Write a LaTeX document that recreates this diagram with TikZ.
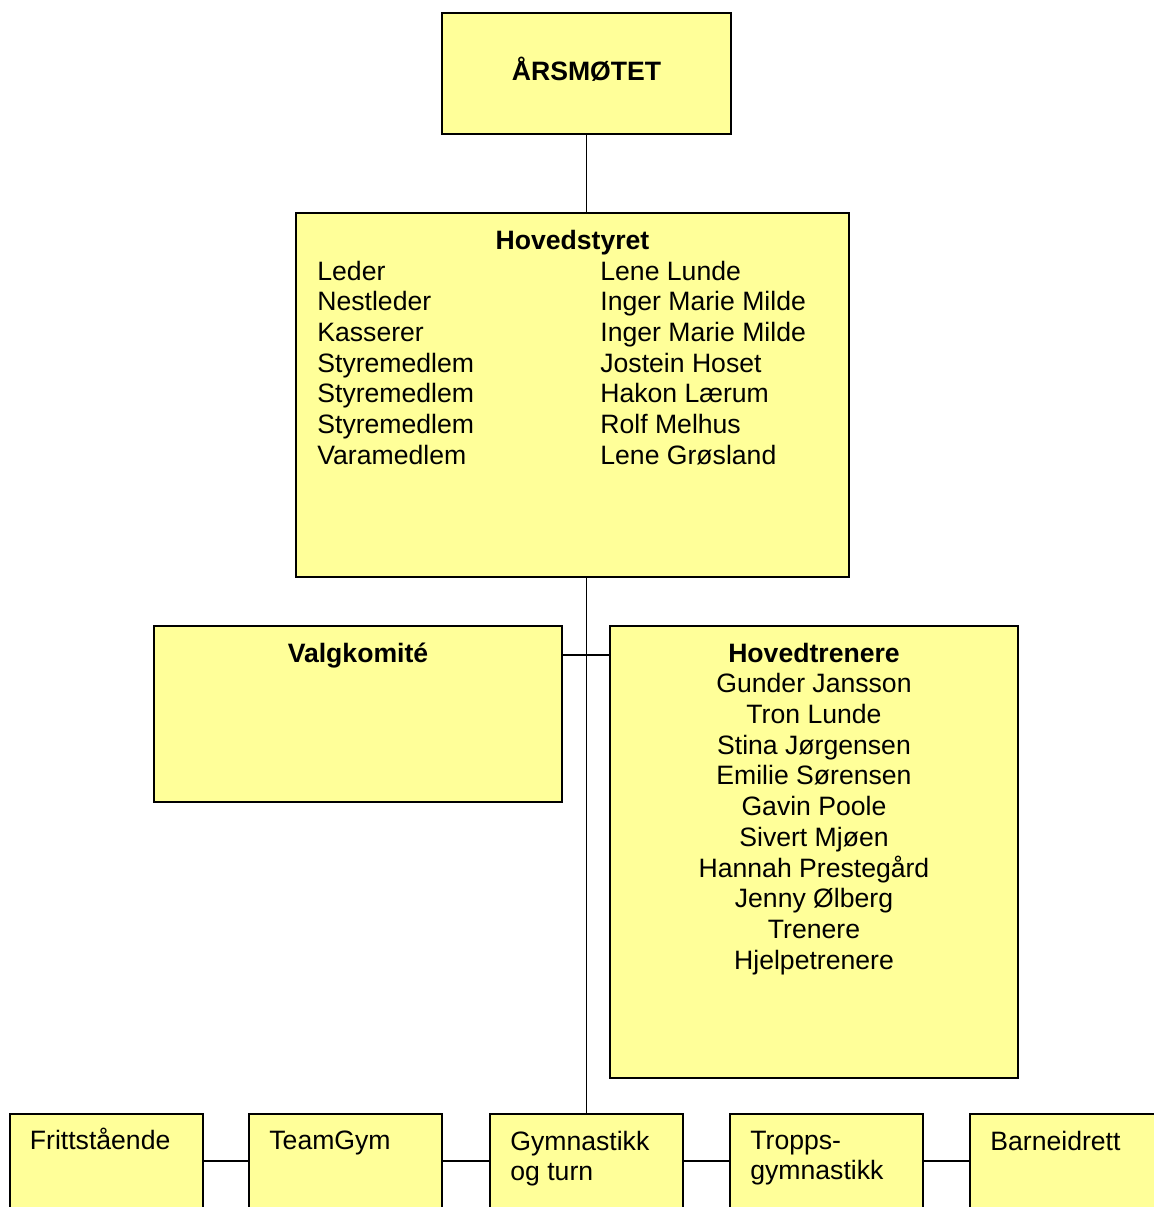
\documentclass[tikz,border=0pt]{standalone}
\usepackage{fontspec}
\setmainfont{Liberation Sans}
\usepackage{tikz}
\usetikzlibrary{positioning, calc}
\definecolor{boxyellow}{HTML}{FFFF99}
\tikzstyle{orgbox} = [rectangle, draw=black, line width=1pt, fill=boxyellow, inner sep=0pt]
\tikzstyle{txt} = [inner sep=0pt, font=\fontsize{13.3pt}{15.35pt}\selectfont]
\tikzstyle{link} = [line width=0.9pt]

\begin{document}
\begin{tikzpicture}[x=0.5pt, y=-0.5pt]
              \path[use as bounding box, clip] (0,0) rectangle (1154,1207);

              % top level
              \node[orgbox, minimum width=144.5pt, minimum height=60.5pt, txt, font=\fontsize{13.3pt}{15.35pt}\selectfont\bfseries, text height=9.5pt, text depth=2.5pt] (ars) at (586.5,73.5) {ÅRSMØTET};

              \node[orgbox, minimum width=276.5pt, minimum height=182pt] (hs) at (572.5,395) {};
              \node[txt, font=\fontsize{13.3pt}{15.35pt}\selectfont\bfseries, anchor=north] (hs-title) at (572.5,230) {Hovedstyret};
              \node[txt, anchor=north west, align=left] (hs-roles) at (317,260.5) {Leder\\Nestleder\\Kasserer\\Styremedlem\\Styremedlem\\Styremedlem\\Varamedlem};
              \node[txt, anchor=north west, align=left] (hs-names) at (600,260.5) {Lene Lunde\\Inger Marie Milde\\Inger Marie Milde\\Jostein Hoset\\Hakon Lærum\\Rolf Melhus\\Lene Grøsland};

              % middle level
              \node[orgbox, minimum width=204pt, minimum height=88pt] (valg) at (358,714) {};
              \node[txt, font=\fontsize{13.3pt}{15.35pt}\selectfont\bfseries, anchor=north] (valg-title) at (358,642.5) {Valgkomité};

              \node[orgbox, minimum width=204pt, minimum height=226pt] (trenere) at (814,852) {};
              \node[txt, anchor=north, align=center] (trenere-list) at (814,642.5) {\textbf{Hovedtrenere}\\Gunder Jansson\\Tron Lunde\\Stina Jørgensen\\Emilie Sørensen\\Gavin Poole\\Sivert Mjøen\\Hannah Prestegård\\Jenny Ølberg\\Trenere\\Hjelpetrenere};

              % groups
              \node[orgbox, minimum width=96.5pt, minimum height=65pt] (fritt) at (106,1179) {};
              \node[orgbox, minimum width=96.5pt, minimum height=65pt] (team) at (345.5,1179) {};
              \node[orgbox, minimum width=96.5pt, minimum height=65pt] (gym) at (586.5,1179) {};
              \node[orgbox, minimum width=96.5pt, minimum height=65pt] (tropps) at (826.5,1179) {};
              \node[orgbox, minimum width=96.5pt, minimum height=65pt] (barne) at (1066.5,1179) {};

              \node[txt, anchor=north west, align=left] (fritt-text) at ([shift={(21,15)}]fritt.north west) {Frittstående};
              \node[txt, anchor=north west, align=left] (team-text) at ([shift={(21,17.5)}]team.north west) {TeamGym};
              \node[txt, anchor=north west, align=left] (gym-text) at ([shift={(21,17.5)}]gym.north west) {Gymnastikk\\og turn};
              \node[txt, anchor=north west, align=left] (tropps-text) at ([shift={(21,17.5)}]tropps.north west) {Tropps-\\gymnastikk};
              \node[txt, anchor=north west, align=left] (barne-text) at ([shift={(21,17.5)}]barne.north west) {Barneidrett};

              % connectors
              \draw[link] (ars.south) -- (ars.south |- hs.north);
              \draw[link] (gym.north |- hs.south) -- (gym.north);
              \draw[link] ([yshift=-15pt]valg.north east) -- ([yshift=-15pt]trenere.north west);
              \foreach \a/\b in {fritt/team, team/gym, gym/tropps, tropps/barne}
                  \draw[link] ([yshift=-24pt]\a.north east) -- ([yshift=-24pt]\b.north west);

          \end{tikzpicture}
\end{document}
